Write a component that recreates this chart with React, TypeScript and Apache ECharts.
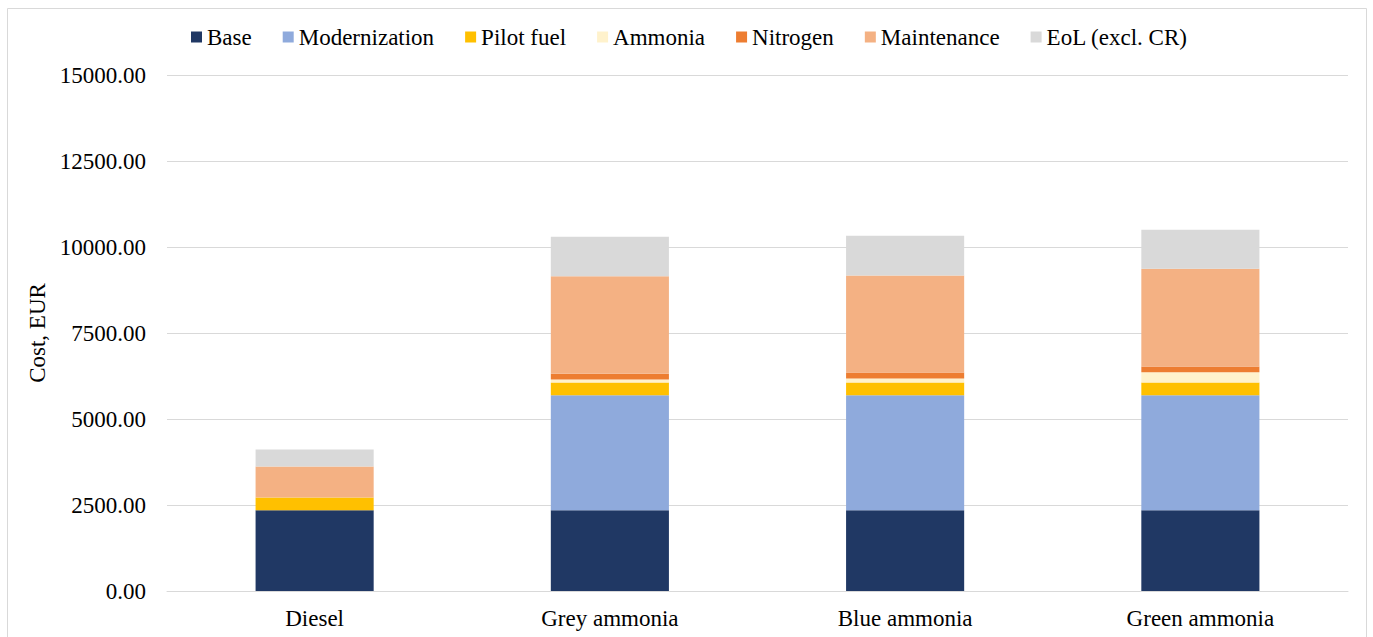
import React, { useEffect, useRef } from "react";
import * as echarts from "echarts";

// Cost breakdown per fuel option (EUR)
const categories = ["Diesel", "Grey ammonia", "Blue ammonia", "Green ammonia"];
const base = [2350, 2350, 2350, 2350];
const modernization = [0, 3340, 3340, 3340];
const pilotFuel = [370, 370, 370, 370];
const ammonia = [0, 85, 115, 300];
const nitrogen = [0, 170, 175, 165];
const maintenance = [900, 2835, 2825, 2845];
const eol = [490, 1150, 1150, 1130];

const seriesDefs = [
  { name: "Base", data: base, color: "#203864" },
  { name: "Modernization", data: modernization, color: "#8FAADC" },
  { name: "Pilot fuel", data: pilotFuel, color: "#FFC000" },
  { name: "Ammonia", data: ammonia, color: "#FFF2CC" },
  { name: "Nitrogen", data: nitrogen, color: "#ED7D31" },
  { name: "Maintenance", data: maintenance, color: "#F4B183" },
  { name: "EoL (excl. CR)", data: eol, color: "#D9D9D9" },
];

const FONT = "Liberation Serif";
const FONT_SIZE = 23;

// Legend drawn as graphic elements: square swatch followed by a serif label
function buildLegend(width: number) {
  const canvas = document.createElement("canvas");
  const ctx = canvas.getContext("2d")!;
  ctx.font = `${FONT_SIZE}px ${FONT}`;
  const swatch = 11;
  const textGap = 5;
  const itemGap = 31;
  const widths = seriesDefs.map((s) => ctx.measureText(s.name).width);
  const total =
    widths.reduce((a, w) => a + swatch + textGap + w, 0) + itemGap * (seriesDefs.length - 1);
  let x = Math.round(width / 2 + 3 - total / 2);
  const cy = 37;
  const elements: any[] = [];
  seriesDefs.forEach((s, i) => {
    elements.push({
      type: "rect",
      shape: { x, y: cy - swatch / 2, width: swatch, height: swatch },
      style: { fill: s.color },
      silent: true,
    });
    elements.push({
      type: "text",
      x: x + swatch + textGap,
      y: cy,
      style: {
        text: s.name,
        fill: "#000",
        fontFamily: FONT,
        fontSize: FONT_SIZE,
        verticalAlign: "middle",
        align: "left",
      },
      silent: true,
    });
    x += swatch + textGap + widths[i] + itemGap;
  });
  return elements;
}

export default function App() {
  const ref = useRef<HTMLDivElement>(null);

  useEffect(() => {
    if (!ref.current) return;
    const chart = echarts.init(ref.current, null, { renderer: "svg" });
    chart.setOption({
      animation: false,
      backgroundColor: "#ffffff",
      textStyle: { fontFamily: FONT },
      graphic: [
        {
          type: "rect",
          shape: { x: 7.5, y: 8.5, width: 1359, height: 640 },
          style: { fill: "none", stroke: "#d9d9d9", lineWidth: 1 },
          silent: true,
        },
        ...buildLegend(1373),
      ],
      legend: { show: false },
      grid: { left: 167, right: 25, top: 75, bottom: 46 },
      xAxis: {
        type: "category",
        data: categories,
        axisLine: { lineStyle: { color: "#d9d9d9", width: 1 } },
        axisTick: { show: false },
        axisLabel: { fontFamily: FONT, fontSize: FONT_SIZE, color: "#000", margin: 16 },
      },
      yAxis: {
        type: "value",
        min: 0,
        max: 15000,
        interval: 2500,
        name: "Cost, EUR",
        nameLocation: "middle",
        nameGap: 108,
        nameTextStyle: { fontFamily: FONT, fontSize: FONT_SIZE, color: "#000" },
        axisLine: { show: false },
        axisTick: { show: false },
        splitLine: { lineStyle: { color: "#d9d9d9", width: 1 } },
        axisLabel: {
          fontFamily: FONT,
          fontSize: FONT_SIZE,
          color: "#000",
          margin: 21,
          formatter: (v: number) => v.toFixed(2),
        },
      },
      series: seriesDefs.map((s) => ({
        name: s.name,
        type: "bar",
        stack: "total",
        barWidth: "40%",
        data: s.data,
        itemStyle: { color: s.color },
      })),
    });
    return () => chart.dispose();
  }, []);

  return (
    <div
      ref={ref}
      style={{ position: "fixed", left: 0, top: 0, width: 1373, height: 637 }}
    />
  );
}
